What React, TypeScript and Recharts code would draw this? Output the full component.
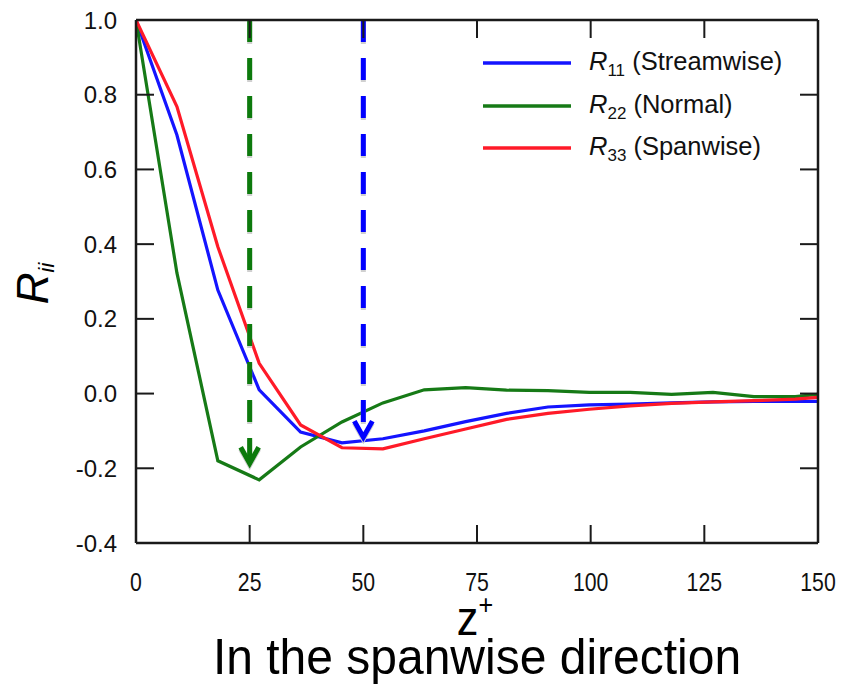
import React from 'react';
import { LineChart, Line, XAxis, YAxis, ReferenceLine, Legend, Label } from 'recharts';

// Spanwise two-point correlation coefficients R_ii versus separation z+
const zPlus = [0, 9, 18, 27.1, 36.2, 45.3, 54.3, 63.4, 72.5, 81.5, 90.6, 99.7, 108.7, 117.8, 126.9, 135.9, 145, 150];
const r11 = [1.0, 0.692, 0.277, 0.01, -0.103, -0.132, -0.121, -0.1, -0.075, -0.053, -0.036, -0.03, -0.028, -0.025, -0.022, -0.021, -0.021, -0.021];
const r22 = [1.0, 0.323, -0.18, -0.231, -0.143, -0.076, -0.025, 0.01, 0.016, 0.009, 0.008, 0.003, 0.003, -0.002, 0.003, -0.008, -0.008, -0.002];
const r33 = [1.0, 0.768, 0.393, 0.081, -0.084, -0.145, -0.148, -0.121, -0.095, -0.069, -0.053, -0.042, -0.033, -0.026, -0.022, -0.019, -0.015, -0.01];

const xTicks = [0, 25, 50, 75, 100, 125, 150];
const yTicks = [-0.4, -0.2, 0, 0.2, 0.4, 0.6, 0.8, 1.0];

const seriesKeys = ['r11', 'r22', 'r33'];
const seriesSubs = ['11', '22', '33'];
const seriesDesc = ['(Streamwise)', '(Normal)', '(Spanwise)'];

// Arrows marking the characteristic spacing of each component
const arrowZ = [25, 50];
const arrowTip = [-0.2, -0.13];

const rows = zPlus.map((z, i) => ({ z, r11: r11[i], r22: r22[i], r33: r33[i] }));

const FONT = "'Liberation Sans', Arial, Helvetica, sans-serif";
const AXIS = '#1a1a1a';
const COLORS: Record<string, string> = { r11: '#1414ff', r22: '#167a16', r33: '#ff1a28' };
const ARROW_COLORS = ['#0c7a0c', '#0000ff'];
const TICK_LEN = 18;

const BottomTick = (props: any) => {
  const { x, y, payload } = props;
  return (
    <g>
      <line x1={x} y1={y} x2={x} y2={y - TICK_LEN} stroke={AXIS} strokeWidth={2} />
      <text
        transform={`translate(${x},${y + 48}) scale(0.85,1)`}
        textAnchor="middle"
        fontSize={25}
        fontFamily={FONT}
        fill="#111"
      >
        {payload.value}
      </text>
    </g>
  );
};

const TopTick = (props: any) => {
  const { x, y } = props;
  return <line x1={x} y1={y} x2={x} y2={y + TICK_LEN} stroke={AXIS} strokeWidth={2} />;
};

const LeftTick = (props: any) => {
  const { x, y, payload } = props;
  return (
    <g>
      <line x1={x} y1={y} x2={x + TICK_LEN} y2={y} stroke={AXIS} strokeWidth={2} />
      <text x={x - 19} y={y + 8.5} textAnchor="end" fontSize={24} fontFamily={FONT} fill="#111">
        {Number(payload.value).toFixed(1)}
      </text>
    </g>
  );
};

const RightTick = (props: any) => {
  const { x, y } = props;
  return <line x1={x} y1={y} x2={x - TICK_LEN} y2={y} stroke={AXIS} strokeWidth={2} />;
};

const XTitle = (props: any) => {
  const { viewBox } = props;
  const cx = viewBox.x + viewBox.width / 2;
  const top = viewBox.y;
  return (
    <g fontFamily={FONT} fill="#000">
      <text transform={`translate(${cx - 2},${top + 92}) scale(0.9,1)`} textAnchor="middle" fontSize={48}>
        z<tspan fontSize={28} dy={-21}>+</tspan>
      </text>
      <text transform={`translate(${cx},${top + 131}) scale(0.96,1)`} textAnchor="middle" fontSize={50}>
        In the spanwise direction
      </text>
    </g>
  );
};

const YTitle = (props: any) => {
  const { viewBox } = props;
  const cy = viewBox.y + viewBox.height / 2;
  return (
    <g transform={`translate(48,${cy + 2}) rotate(-90)`}>
      <text x={0} y={0} textAnchor="middle" fontFamily={FONT} fill="#000" fontStyle="italic" fontSize={44}>
        R<tspan fontSize={22} dy={6}>ii</tspan>
      </text>
    </g>
  );
};

const DashedArrow = (props: any) => {
  const { x1, y1, x2, y2, stroke } = props;
  const tipY = y2 - 5;
  const chevron = `M${x2 - 9},${tipY - 16} L${x2},${tipY} L${x2 + 9},${tipY - 16}`;
  return (
    <g>
      <line x1={x1} y1={y1 + 2} x2={x2} y2={y2 - 4} stroke="#d0d0d0" strokeWidth={5} strokeDasharray="22 16" />
      <path d={chevron} transform="translate(0,2)" fill="none" stroke="#d0d0d0" strokeWidth={5} />
      <line x1={x1} y1={y1} x2={x2} y2={y2 - 6} stroke={stroke} strokeWidth={5} strokeDasharray="22 16" />
      <path d={chevron} fill="none" stroke={stroke} strokeWidth={5} strokeLinejoin="miter" />
    </g>
  );
};

const LegendBox = (props: any) => {
  const { payload } = props;
  return (
    <div style={{ fontFamily: FONT, color: '#111' }}>
      {(payload || []).map((entry: any) => {
        const idx = seriesKeys.indexOf(entry.dataKey);
        return (
          <div key={entry.dataKey} style={{ display: 'flex', alignItems: 'center', height: 42.5 }}>
            <svg width={88} height={6} style={{ display: 'block' }}>
              <line x1={0} y1={3} x2={88} y2={3} stroke={entry.color} strokeWidth={3.5} />
            </svg>
            <span style={{ marginLeft: 18, fontSize: 25.5, whiteSpace: 'nowrap', lineHeight: '30px' }}>
              <i>R</i>
              <span style={{ fontSize: 17, position: 'relative', top: 6 }}>{seriesSubs[idx]}</span>
              {' '}
              {seriesDesc[idx]}
            </span>
          </div>
        );
      })}
    </div>
  );
};

export default function App() {
  return (
    <>
      <style>{'body{margin:0}'}</style>
      <LineChart width={846} height={684} data={rows} margin={{ top: 19, right: 27, bottom: 0, left: 0 }}>
        <XAxis
          dataKey="z"
          type="number"
          domain={[0, 150]}
          ticks={xTicks}
          interval={0}
          height={141}
          tickSize={0}
          tickMargin={0}
          tickLine={false}
          tick={<BottomTick />}
          axisLine={{ stroke: AXIS, strokeWidth: 2.5 }}
          allowDataOverflow
        >
          <Label content={<XTitle />} />
        </XAxis>
        <XAxis
          xAxisId="top"
          orientation="top"
          dataKey="z"
          type="number"
          domain={[0, 150]}
          ticks={xTicks}
          interval={0}
          height={1}
          tickSize={0}
          tickMargin={0}
          tickLine={false}
          tick={<TopTick />}
          axisLine={{ stroke: AXIS, strokeWidth: 2.5 }}
          allowDataOverflow
        />
        <YAxis
          type="number"
          domain={[-0.4, 1]}
          ticks={yTicks}
          interval={0}
          width={136}
          tickSize={0}
          tickMargin={0}
          tickLine={false}
          tick={<LeftTick />}
          axisLine={{ stroke: AXIS, strokeWidth: 2.5 }}
          allowDataOverflow
        >
          <Label content={<YTitle />} />
        </YAxis>
        <YAxis
          yAxisId="right"
          orientation="right"
          type="number"
          domain={[-0.4, 1]}
          ticks={yTicks}
          interval={0}
          width={1}
          tickSize={0}
          tickMargin={0}
          tickLine={false}
          tick={<RightTick />}
          axisLine={{ stroke: AXIS, strokeWidth: 2.5 }}
          allowDataOverflow
        />
        <Legend
          layout="horizontal"
          align="center"
          verticalAlign="middle"
          content={<LegendBox />}
          wrapperStyle={{ position: 'absolute', top: 42, left: 483, width: 'auto' }}
        />
        {seriesKeys.map((k) => (
          <Line
            key={k}
            dataKey={k}
            type="linear"
            stroke={COLORS[k]}
            strokeWidth={3.2}
            dot={false}
            activeDot={false}
            isAnimationActive={false}
          />
        ))}
        {arrowZ.map((z, i) => (
          <ReferenceLine
            key={`arrow-${z}`}
            segment={[
              { x: z, y: 1 },
              { x: z, y: arrowTip[i] },
            ]}
            stroke={ARROW_COLORS[i]}
            shape={<DashedArrow />}
          />
        ))}
      </LineChart>
    </>
  );
}
